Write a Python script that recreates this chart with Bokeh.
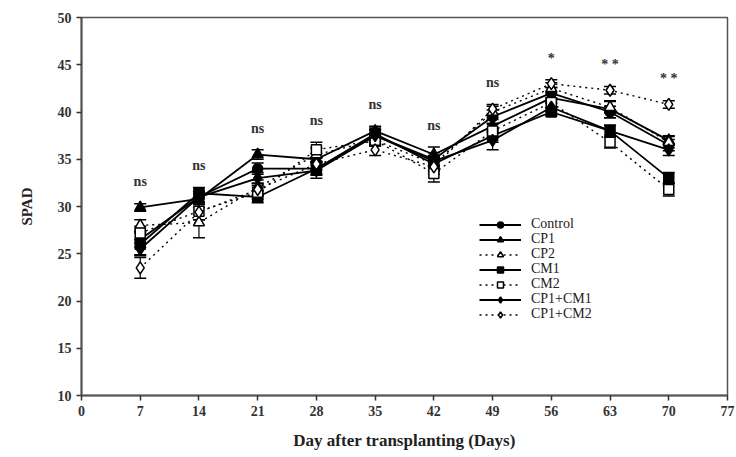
from bokeh.plotting import figure
from bokeh.models import ColumnDataSource, Whisker, TeeHead, Legend, LegendItem, Range1d, FixedTicker, Label
from bokeh.embed import file_html
from bokeh.resources import INLINE

days = [7, 14, 21, 28, 35, 42, 49, 56, 63, 70]

control = [26.5, 31.0, 34.0, 34.0, 37.5, 35.0, 39.5, 42.0, 40.0, 36.5]
control_err = [0.8, 0.6, 0.6, 0.7, 0.6, 0.7, 0.7, 0.6, 0.6, 0.6]
cp1 = [29.9, 30.8, 35.5, 35.0, 38.0, 35.5, 38.5, 41.5, 40.3, 37.0]
cp1_err = [0.4, 0.6, 0.5, 0.6, 0.5, 0.8, 0.7, 0.6, 0.9, 0.5]
cp2 = [28.0, 28.3, 32.0, 35.5, 37.0, 34.5, 40.0, 42.5, 40.5, 36.8]
cp2_err = [0.6, 1.6, 0.8, 0.7, 0.6, 0.8, 0.6, 0.6, 0.6, 0.6]
cm1 = [26.0, 31.4, 31.0, 34.0, 37.7, 34.5, 37.5, 40.0, 38.0, 33.0]
cm1_err = [1.2, 0.6, 0.6, 0.6, 0.6, 0.7, 0.7, 0.4, 0.6, 0.6]
cm2 = [27.2, 29.5, 31.5, 36.0, 37.0, 33.5, 38.0, 41.0, 36.8, 31.8]
cm2_err = [0.7, 0.9, 0.7, 0.8, 0.6, 0.9, 0.7, 0.5, 0.6, 0.7]
cp1cm1 = [25.5, 31.0, 33.0, 33.8, 37.5, 34.8, 37.0, 40.5, 38.0, 36.0]
cp1cm1_err = [0.6, 0.6, 0.6, 0.8, 0.6, 0.6, 1.0, 0.5, 0.6, 0.6]
cp1cm2 = [23.5, 29.4, 31.8, 34.5, 36.0, 34.2, 40.3, 43.0, 42.3, 40.8]
cp1cm2_err = [1.1, 0.8, 0.7, 0.6, 0.6, 0.8, 0.5, 0.4, 0.4, 0.4]

sig_labels = ["ns", "ns", "ns", "ns", "ns", "ns", "ns", "*", "* *", "* *"]

series = [
    ("Control", control, control_err, "circle", "black", "solid"),
    ("CP1", cp1, cp1_err, "triangle", "black", "solid"),
    ("CP2", cp2, cp2_err, "triangle", "white", "dotted"),
    ("CM1", cm1, cm1_err, "square", "black", "solid"),
    ("CM2", cm2, cm2_err, "square", "white", "dotted"),
    ("CP1+CM1", cp1cm1, cp1cm1_err, "diamond", "black", "solid"),
    ("CP1+CM2", cp1cm2, cp1cm2_err, "diamond", "white", "dotted"),
]

FONT = "Liberation Serif"

p = figure(width=736, height=457, output_backend="svg", toolbar_location=None,
           x_range=Range1d(0, 77), y_range=Range1d(10, 50),
           min_border_left=81, min_border_right=9, min_border_top=17, min_border_bottom=62)
p.grid.visible = False
p.outline_line_color = "#555555"
p.outline_line_width = 1.5

for ax in (p.xaxis[0], p.yaxis[0]):
    ax.axis_line_color = "#555555"
    ax.axis_line_width = 2
    ax.major_tick_line_color = "#333333"
    ax.major_tick_line_width = 1.5
    ax.major_tick_out = 5
    ax.major_tick_in = 0
    ax.minor_tick_line_color = None
    ax.major_label_text_font = FONT
    ax.major_label_text_font_style = "bold"
    ax.major_label_text_font_size = "14px"
    ax.major_label_text_color = "#333333"
    ax.axis_label_text_font = FONT
    ax.axis_label_text_font_style = "bold"
    ax.axis_label_text_color = "#222222"

p.xaxis.axis_label_text_font_size = "17px"
p.yaxis.axis_label_text_font_size = "15px"
p.xaxis.ticker = FixedTicker(ticks=[0, 7, 14, 21, 28, 35, 42, 49, 56, 63, 70, 77])
p.yaxis.ticker = FixedTicker(ticks=[10, 15, 20, 25, 30, 35, 40, 45, 50])
p.xaxis.axis_label = "Day after transplanting (Days)"
p.yaxis.axis_label = "SPAD"
p.xaxis.axis_label_standoff = 12
p.yaxis.axis_label_standoff = 20

for i, (name, vals, errs, marker, fill, dash) in enumerate(series):
    src = ColumnDataSource(dict(x=days, y=vals,
                                upper=[v + e for v, e in zip(vals, errs)],
                                lower=[v - e for v, e in zip(vals, errs)]))
    ln = p.line("x", "y", source=src, line_color="black",
                line_width=1.8 if dash == "solid" else 1.4, line_dash=dash)
    w = Whisker(source=src, base="x", upper="upper", lower="lower",
                line_color="black", line_width=1.2,
                upper_head=TeeHead(size=12, line_color="black", line_width=1.5),
                lower_head=TeeHead(size=12, line_color="black", line_width=1.5))
    p.add_layout(w)
    sz = 10 if marker != "triangle" else 11
    if marker == "diamond":
        sz = 12
    mk = p.scatter("x", "y", source=src, marker=marker, size=sz,
                   fill_color=fill, line_color="black", line_width=1.5)
    # one legend box per row, so the rows can sit as close as in the figure
    lg = Legend(items=[LegendItem(label=name, renderers=[ln, mk])],
                location=(398, 163 - 15 * i), background_fill_alpha=0,
                border_line_color=None, label_text_font=FONT,
                label_text_font_size="14px", label_text_color="#222222",
                glyph_width=42, glyph_height=15, spacing=0, padding=0, margin=0,
                label_standoff=10, label_height=13)
    p.add_layout(lg, "center")

# significance labels above each day's cluster
tops = [max(s[1][i] + s[2][i] for s in series) for i in range(len(days))]
for d, t, lab in zip(days, tops, sig_labels):
    p.add_layout(Label(x=d, y=t + 2.3, text=lab, text_font=FONT,
                       text_font_style="bold", text_font_size="14px",
                       text_color="#333333", text_align="center", text_baseline="middle"))

open("out.html", "w").write(file_html(p, INLINE))
